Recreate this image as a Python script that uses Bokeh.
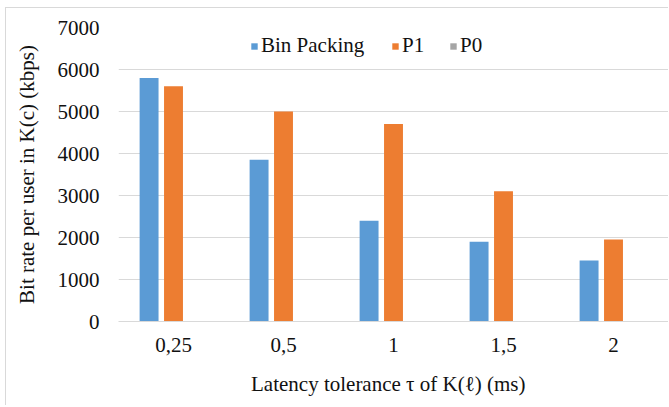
from bokeh.plotting import figure
from bokeh.models import ColumnDataSource, FactorRange, Range1d, FixedTicker, Legend, LegendItem
from bokeh.transform import dodge
from bokeh.embed import file_html
from bokeh.resources import INLINE

categories = ["0,25", "0,5", "1", "1,5", "2"]
bin_packing = [5800, 3850, 2400, 1900, 1450]
p1 = [5600, 5000, 4700, 3100, 1950]
p0 = [0, 0, 0, 0, 0]
y_ticks = [0, 1000, 2000, 3000, 4000, 5000, 6000, 7000]

source = ColumnDataSource(data=dict(cat=categories, bp=bin_packing, p1=p1, p0=p0))

FONT = "Liberation Serif"
FS = "21px"

p = figure(x_range=FactorRange(*categories, range_padding=0), y_range=Range1d(0, 7000),
           width=663, height=398, output_backend="svg", toolbar_location=None,
           min_border_left=112, min_border_right=1, min_border_top=19, min_border_bottom=85)
p.background_fill_color = "white"
p.border_fill_color = "white"
p.outline_line_color = None
p.styles = {"margin-left": "5px", "margin-top": "7px",
            "border-left": "1px solid #D9D9D9", "border-top": "1px solid #D9D9D9"}

r_bp = p.vbar(x=dodge("cat", -0.222, range=p.x_range), top="bp", width=0.172, source=source,
              fill_color="#5B9BD5", line_color=None)
r_p1 = p.vbar(x=dodge("cat", 0.0, range=p.x_range), top="p1", width=0.172, source=source,
              fill_color="#ED7D31", line_color=None)
r_p0 = p.vbar(x=dodge("cat", 0.222, range=p.x_range), top="p0", width=0.172, source=source,
              fill_color="#A5A5A5", line_color=None)

p.xgrid.grid_line_color = None
p.ygrid.grid_line_color = "#D9D9D9"
p.ygrid.ticker = FixedTicker(ticks=y_ticks)
p.yaxis.ticker = FixedTicker(ticks=y_ticks)

for ax in (p.xaxis[0], p.yaxis[0]):
    ax.major_tick_line_color = None
    ax.minor_tick_line_color = None
    ax.major_label_text_font = FONT
    ax.major_label_text_font_size = FS
    ax.major_label_text_color = "#111111"
    ax.axis_label_text_font = FONT
    ax.axis_label_text_font_size = FS
    ax.axis_label_text_font_style = "normal"
    ax.axis_label_text_color = "#111111"

p.yaxis.axis_line_color = None
p.xaxis.axis_line_color = "#D9D9D9"
p.yaxis.major_label_standoff = 13
p.xaxis.major_label_standoff = 10
p.yaxis.axis_label = "Bit rate per user in K(c) (kbps)"
p.xaxis.axis_label = "Latency  tolerance  \u03c4 of K(\u2113) (ms)"
p.yaxis.axis_label_standoff = 16
p.xaxis.axis_label_standoff = 17

legend_specs = [("Bin Packing", r_bp, 132), ("P1", r_p1, 273), ("P0", r_p0, 331)]
for label, rend, lx in legend_specs:
    lg = Legend(items=[LegendItem(label=label, renderers=[rend])],
                orientation="horizontal", location=(lx, 263))
    lg.padding = 0
    lg.margin = 0
    lg.glyph_width = 8
    lg.glyph_height = 8
    lg.label_standoff = 3
    lg.label_text_font = FONT
    lg.label_text_font_size = FS
    lg.label_text_color = "#111111"
    lg.border_line_color = None
    lg.background_fill_alpha = 0
    p.add_layout(lg, "center")

open("out.html", "w").write(file_html(p, INLINE))
